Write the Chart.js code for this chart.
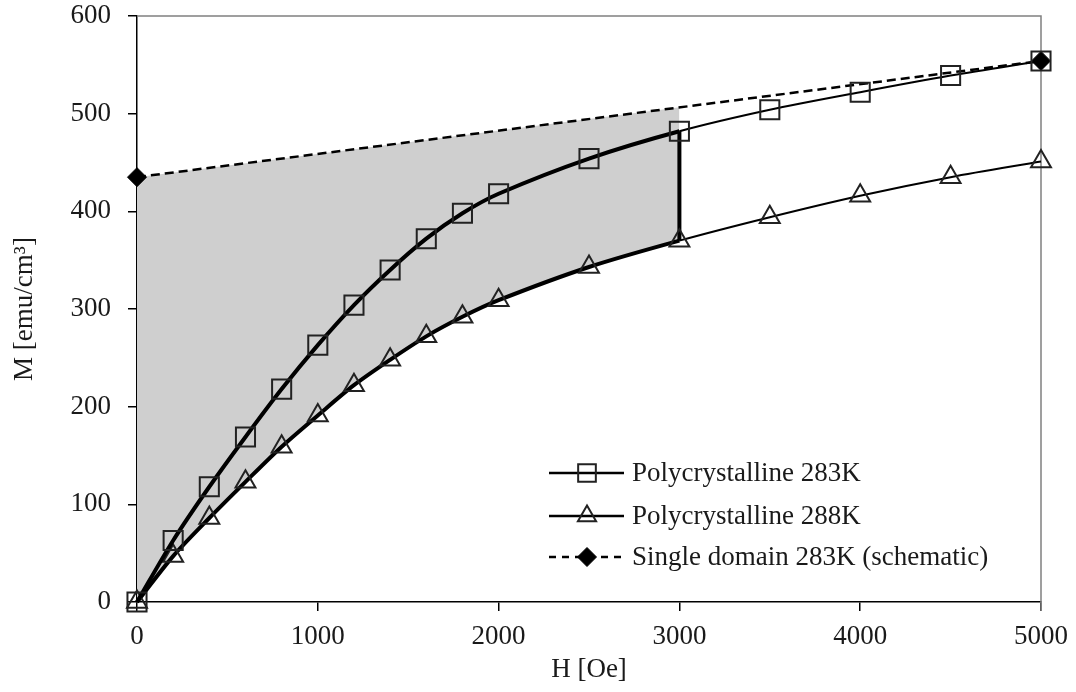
<!DOCTYPE html>
<html>
<head>
<meta charset="utf-8">
<script src="https://cdn.jsdelivr.net/npm/chart.js@4.4.1/dist/chart.umd.min.js"></script>
<style>
    html, body { margin: 0; padding: 0; background: #fff; }
    #wrap { width: 1076px; height: 692px; }
</style>
</head>
<body>
<div id="wrap"><canvas id="mhChart"></canvas></div>
<script>
// Magnetization vs applied field
const fieldH = [0, 200, 400, 600, 800, 1000, 1200, 1400, 1600, 1800, 2000, 2500, 3000, 3500, 4000, 4500, 5000];
const m283 = [0, 63, 118, 169, 218, 263, 304, 340, 372, 398, 418, 454, 482, 504, 522, 539, 554];
const m288 = [0, 47, 86, 123, 159, 191, 222, 248, 272, 292, 309, 343, 370, 394, 416, 435, 451];
const singleH = [0, 5000];
const singleM = [435, 554];

const xTicks = [0, 1000, 2000, 3000, 4000, 5000];
const yTicks = [0, 100, 200, 300, 400, 500, 600];

const seriesNames = ['Polycrystalline 283K', 'Polycrystalline 288K', 'Single domain 283K (schematic)'];
const xTitle = 'H [Oe]';
const yTitle = 'M [emu/cm\u00B3]';

// field where the thick (shaded) branch ends
const stepField = 3000;

const FONT = '"Liberation Serif", "Times New Roman", serif';
const INK = '#1a1a1a';
const FS = 27;

function pts(xs, ys) {
    return xs.map((x, i) => ({ x: x, y: ys[i] }));
}

const stepIdx = fieldH.indexOf(stepField);
const thickSeg = ctx => ctx.p0.parsed.x < stepField ? 4 : 2;

// legend drawn as line + marker, like the original
const lineLegend = {
    id: 'lineLegend',
    afterDatasetsDraw(chart) {
        const ctx = chart.ctx;
        const rows = [473, 516, 557];
        const x0 = 549, x1 = 624, xm = 587, xt = 632;
        [0, 1, 2].forEach((di, r) => {
            const ds = chart.data.datasets[di];
            const y = rows[r];
            ctx.save();
            ctx.strokeStyle = '#000';
            ctx.lineWidth = 2.5;
            ctx.setLineDash(ds.legendDash || []);
            ctx.beginPath();
            ctx.moveTo(x0, y);
            ctx.lineTo(x1, y);
            ctx.stroke();
            ctx.setLineDash([]);
            ctx.fillStyle = ds.pointBackgroundColor;
            ctx.strokeStyle = ds.pointBorderColor;
            ctx.lineWidth = ds.pointBorderWidth;
            Chart.helpers.drawPoint(ctx, {
                pointStyle: ds.pointStyle,
                radius: ds.legendRadius,
                rotation: 0,
                borderWidth: ds.pointBorderWidth
            }, xm, y);
            ctx.fillStyle = INK;
            ctx.font = FS + 'px ' + FONT;
            ctx.textBaseline = 'middle';
            ctx.textAlign = 'left';
            ctx.fillText(ds.label, xt, y + 1);
            ctx.restore();
        });
    }
};

// grey top and right frame lines
const frame = {
    id: 'frame',
    beforeDatasetsDraw(chart) {
        const { ctx, chartArea: a } = chart;
        ctx.save();
        ctx.strokeStyle = '#808080';
        ctx.lineWidth = 1.5;
        ctx.beginPath();
        ctx.moveTo(a.left, a.top);
        ctx.lineTo(a.right, a.top);
        ctx.lineTo(a.right, a.bottom + 9);
        ctx.stroke();
        ctx.restore();
    }
};

new Chart(document.getElementById('mhChart'), {
    type: 'line',
    data: {
        datasets: [
            {
                label: seriesNames[0],
                data: pts(fieldH, m283),
                borderColor: '#000',
                borderWidth: 2,
                segment: { borderWidth: thickSeg },
                tension: 0.3,
                pointStyle: 'rect',
                pointRadius: 13.5,
                legendRadius: 12.5,
                pointBackgroundColor: 'rgba(0,0,0,0)',
                pointBorderColor: '#222',
                pointBorderWidth: 2,
                fill: false,
                clip: false
            },
            {
                label: seriesNames[1],
                data: pts(fieldH, m288),
                borderColor: '#000',
                borderWidth: 2,
                segment: { borderWidth: thickSeg },
                tension: 0.3,
                pointStyle: 'triangle',
                pointRadius: 11.5,
                legendRadius: 10.5,
                pointBackgroundColor: 'rgba(0,0,0,0)',
                pointBorderColor: '#222',
                pointBorderWidth: 2,
                fill: false,
                clip: false
            },
            {
                label: seriesNames[2],
                data: pts(singleH, singleM),
                borderColor: '#000',
                borderWidth: 2.5,
                borderDash: [9, 5],
                legendDash: [7, 6],
                tension: 0,
                pointStyle: 'rectRot',
                pointRadius: 9.5,
                legendRadius: 9.5,
                pointBackgroundColor: '#000',
                pointBorderColor: '#000',
                pointBorderWidth: 1,
                fill: false,
                clip: false
            },
            {
                // vertical jump at the end of the thick branch
                label: 'step',
                data: [{ x: stepField, y: m283[stepIdx] }, { x: stepField, y: m288[stepIdx] }],
                borderColor: '#000',
                borderWidth: 4,
                pointRadius: 0,
                fill: false
            },
            {
                // shaded region between the 288K curve and the single-domain line
                label: 'shade',
                data: pts(fieldH, m288).filter(p => p.x <= stepField),
                borderWidth: 0,
                borderColor: 'rgba(0,0,0,0)',
                pointRadius: 0,
                tension: 0.3,
                backgroundColor: '#cfcfcf',
                fill: { target: 2 }
            }
        ]
    },
    options: {
        responsive: true,
        maintainAspectRatio: false,
        animation: false,
        layout: { padding: { top: 16, right: 35, left: 0, bottom: 0 } },
        plugins: {
            legend: { display: false },
            tooltip: { enabled: false }
        },
        scales: {
            x: {
                type: 'linear',
                min: xTicks[0],
                max: xTicks[xTicks.length - 1],
                afterBuildTicks: s => { s.ticks = xTicks.map(v => ({ value: v })); },
                afterFit: s => {
                    s.height = 90;
                    s.paddingLeft = 0;
                    s.paddingRight = 0;
                },
                border: { display: true, color: '#000', width: 1.5 },
                grid: { drawOnChartArea: false, drawTicks: true, tickLength: 9, color: '#000', lineWidth: 1.5 },
                ticks: {
                    color: INK,
                    font: { family: FONT, size: FS },
                    padding: 10,
                    maxRotation: 0,
                    callback: v => String(v)
                },
                title: {
                    display: true,
                    text: xTitle,
                    color: INK,
                    font: { family: FONT, size: FS },
                    padding: { top: 0, bottom: 6 }
                }
            },
            y: {
                type: 'linear',
                min: yTicks[0],
                max: yTicks[yTicks.length - 1],
                afterBuildTicks: s => { s.ticks = yTicks.map(v => ({ value: v })); },
                afterFit: s => {
                    s.width = 137;
                    s.paddingTop = 0;
                    s.paddingBottom = 0;
                },
                border: { display: true, color: '#000', width: 1.5 },
                grid: { drawOnChartArea: false, drawTicks: true, tickLength: 9, color: '#000', lineWidth: 1.5 },
                ticks: {
                    color: INK,
                    font: { family: FONT, size: FS },
                    padding: 17,
                    callback: v => String(v)
                },
                title: {
                    display: true,
                    text: yTitle,
                    color: INK,
                    font: { family: FONT, size: FS },
                    padding: { top: 9, bottom: 0 }
                }
            }
        }
    },
    plugins: [frame, lineLegend]
});
</script>
</body>
</html>
